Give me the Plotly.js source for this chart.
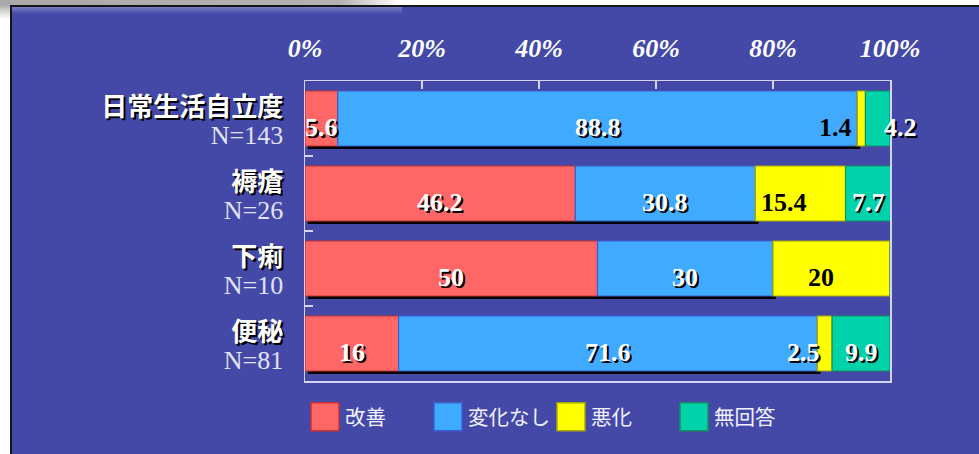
<!DOCTYPE html>
<html>
<head>
<meta charset="utf-8">
<script src="https://cdn.plot.ly/plotly-3.0.1.min.js"></script>
<style>
  html, body { margin: 0; padding: 0; background: #ffffff; width: 979px; height: 454px; overflow: hidden; }
  #topshade { position: absolute; left: 0; top: 0; width: 400px; height: 7px;
    background: linear-gradient(to right, #a9a9a9 0%, #b3b3b3 85%, rgba(255,255,255,0) 100%); }
  #leftshade { position: absolute; left: 0; top: 5px; width: 11px; height: 14px;
    background: linear-gradient(to bottom, #b0b0b0, rgba(255,255,255,0)); }
  #frame { position: absolute; left: 10px; top: 5px; width: 967px; height: 447px;
    border-left: 2px solid #151515; border-top: 2px solid #151515; background: #4449A8; }
  #chart { position: absolute; left: 0; top: 0; width: 967px; height: 447px; }
  #gloss { position: absolute; left: 0; top: 0; width: 390px; height: 7px; pointer-events: none;
    background: linear-gradient(to bottom, rgba(170,170,215,0.55), rgba(68,73,168,0)); }
</style>
</head>
<body>
<div id="topshade"></div>
<div id="leftshade"></div>
<div id="frame"><div id="chart"></div><div id="gloss"></div></div>
<script>
// ---- data ----
const categories = ['日常生活自立度', '褥瘡', '下痢', '便秘'];
const nLabels = ['N=143', 'N=26', 'N=10', 'N=81'];
const improved = [5.6, 46.2, 50, 16];
const unchanged = [88.8, 30.8, 30, 71.6];
const worsened = [1.4, 15.4, 20, 2.5];
const noAnswer = [4.2, 7.7, 0, 9.9];
const seriesNames = ['改善', '変化なし', '悪化', '無回答'];
const xTickVals = [0, 20, 40, 60, 80, 100];

// ---- styles ----
const fills = ['#FF6666', '#40AAFF', '#FFFF00', '#00D2AA'];
const lines = ['#C83232', '#3A5FD0', '#A8A800', '#13905E'];
const barWidth = 0.733;
const labelTweaks = {
  '2,0': { anchor: 'right', atStart: true, dx: -3, dark: true },
  '3,0': { dx: 23 },
  '2,1': { dx: -17, dark: true },
  '2,2': { dx: -11, dark: true },
  '2,3': { anchor: 'right', atEnd: true, dx: -10 }
};

const series = [improved, unchanged, worsened, noAnswer];
const bases = series.map((s, k) => categories.map((c, i) => {
  let b = 0; for (let j = 0; j < k; j++) b += series[j][i]; return b;
}));

const traces = [];
traces.push({
  type: 'bar', orientation: 'h', y: categories,
  x: categories.map((c, i) => improved[i] + unchanged[i]),
  base: categories.map(() => 0.5),
  width: barWidth, offset: -barWidth / 2 + 0.04,
  marker: { color: '#000000', line: { width: 0 } },
  showlegend: false, hoverinfo: 'skip'
});
series.forEach((s, k) => {
  traces.push({
    type: 'bar', orientation: 'h', name: seriesNames[k], y: categories, x: s,
    base: bases[k], width: barWidth, offset: -barWidth / 2,
    marker: { color: fills[k], line: { color: lines[k], width: 1.2 } }
  });
});

const annotations = [];
series.forEach((s, k) => {
  s.forEach((v, i) => {
    if (!v) return;
    const t = labelTweaks[k + ',' + i] || {};
    let x = bases[k][i] + v / 2;
    if (t.atStart) x = bases[k][i];
    if (t.atEnd) x = bases[k][i] + v;
    annotations.push({
      x: x, y: categories[i], xref: 'x', yref: 'y', text: String(v), showarrow: false,
      xanchor: t.anchor || 'center', xshift: t.dx || 0, yshift: -9,
      font: { family: 'Liberation Serif, Times New Roman, serif', size: 26, weight: 'bold',
        color: t.dark ? '#000000' : '#FFFFFF', shadow: t.dark ? 'none' : '2px 2px 0px #000000' }
    });
  });
});

const tickText = categories.map((c, i) =>
  '<span style="font-family:\'Noto Sans CJK JP\';font-weight:bold;font-size:26px;fill:#FFFFFF;text-shadow:2px 2px 0px #000000">' + c +
  '</span><br><span style="font-size:26px;fill:#E2E2F5">' + nLabels[i] + '</span>');

const lineCol = '#D4D4F0';
const layout = {
  width: 967, height: 447,
  paper_bgcolor: 'rgba(0,0,0,0)', plot_bgcolor: 'rgba(0,0,0,0)',
  margin: { l: 293, r: 89, t: 74, b: 73, pad: 0 },
  barmode: 'overlay',
  showlegend: true,
  xaxis: {
    side: 'top', range: [0, 100], tickmode: 'array', tickvals: xTickVals,
    ticktext: xTickVals.map(v => v + '%'),
    ticks: 'inside', ticklen: 8, tickwidth: 1.5, tickcolor: lineCol,
    showline: true, linecolor: lineCol, linewidth: 1.5, mirror: true,
    showgrid: false, zeroline: false, ticklabelstandoff: 12,
    tickfont: { family: 'Liberation Serif, Times New Roman, serif', size: 26, color: '#FFFFFF', style: 'italic', weight: 'bold' }
  },
  yaxis: {
    type: 'category', categoryorder: 'array', categoryarray: categories,
    range: [3.5, -0.5], tickmode: 'array', tickvals: categories, ticktext: tickText,
    tickson: 'boundaries', ticks: 'inside', ticklen: 8, tickwidth: 1.5, tickcolor: lineCol,
    showline: true, linecolor: lineCol, linewidth: 1.5, mirror: true,
    showgrid: false, zeroline: false, ticklabelstandoff: 16, ticklabelshift: -4,
    tickfont: { family: 'Liberation Serif, Times New Roman, serif', size: 21.5, color: '#E2E2F5' }
  },
  legend: {
    orientation: 'h', x: 0, xanchor: 'left', y: -0.12, yanchor: 'middle',
    bgcolor: 'rgba(0,0,0,0)', traceorder: 'normal', entrywidth: 78,
    font: { family: 'Noto Sans CJK JP', size: 20.5, color: '#F2F2FF' }
  },
  annotations: annotations
};

const gdEl = document.getElementById('chart');
function enlargeSwatches() {
  // enlarge the legend swatches to the reference's square size
  gdEl.querySelectorAll('g.legendpoints path').forEach(p => {
    p.setAttribute('d', 'M14,14H-14V-14H14Z');
    p.style.strokeWidth = '1.5px';
  });
}
Plotly.newPlot(gdEl, traces, layout, { displayModeBar: false, staticPlot: true }).then(() => {
  enlargeSwatches();
  setTimeout(enlargeSwatches, 0);
  setTimeout(enlargeSwatches, 50);
});
gdEl.on && gdEl.on('plotly_afterplot', enlargeSwatches);
</script>
</body>
</html>
